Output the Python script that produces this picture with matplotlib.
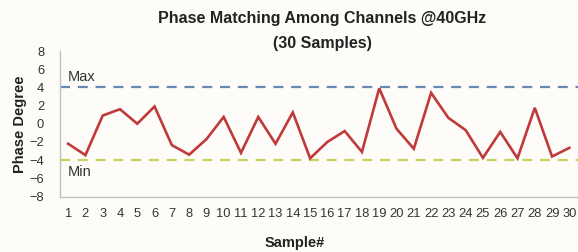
import matplotlib
matplotlib.use("Agg")
import matplotlib.pyplot as plt

samples = list(range(1, 31))
phase = [-2.2, -3.45, 0.9, 1.6, 0.0, 1.9, -2.35, -3.4, -1.7, 0.75,
         -3.2, 0.75, -2.2, 1.25, -3.8, -2.0, -0.8, -3.1, 3.9, -0.55,
         -2.75, 3.4, 0.65, -0.7, -3.75, -0.9, -3.8, 1.75, -3.6, -2.65]
max_limit = 4
min_limit = -4
yticks = [-8, -6, -4, -2, 0, 2, 4, 6, 8]

plt.rcParams['font.family'] = ['Liberation Sans', 'DejaVu Sans']
bg = '#fdfcf8'
fig = plt.figure(figsize=(5.78, 2.52), dpi=100, facecolor=bg)
ax = fig.add_axes([59.5/578, 1 - 196.5/252, (578 - 59.5)/578, (196.5 - 51)/252])
ax.set_facecolor(bg)

x = list(range(len(samples)))
ax.axhline(max_limit, color='#6a86b4', lw=1.6, dashes=(4.5, 3.5))
ax.axhline(min_limit, color='#c5d35c', lw=1.6, dashes=(4.5, 3.5))
ax.plot(x, phase, color='#c0393b', lw=1.9, solid_joinstyle='miter')

ax.set_xlim(-0.5, len(samples) - 0.5)
ax.set_ylim(-8, 8)
ax.set_yticks(yticks)
ax.set_xticks(x)
ax.set_xticklabels([str(s) for s in samples])
ax.tick_params(axis='both', length=0, labelsize=9.3, colors='#333333')
ax.tick_params(axis='y', pad=11)
ax.tick_params(axis='x', pad=8)
for s in ['top', 'right']:
    ax.spines[s].set_visible(False)
for s in ['left', 'bottom']:
    ax.spines[s].set_color('#bfbfbf')
    ax.spines[s].set_linewidth(1.0)

ax.text(0, max_limit + 0.4, 'Max', fontsize=10.5, color='#333333', ha='left', va='bottom')
ax.text(0, min_limit - 0.5, 'Min', fontsize=10.5, color='#333333', ha='left', va='top')

fig.text(322/578, 1 - 18/252, 'Phase Matching Among Channels @40GHz',
         ha='center', va='center', fontsize=11.5, fontweight='bold', color='#222222')
fig.text(322/578, 1 - 43/252, '(30 Samples)',
         ha='center', va='center', fontsize=11.5, fontweight='bold', color='#222222')
fig.text(20/578, 1 - 124/252, 'Phase Degree', rotation=90, ha='center', va='center',
         fontsize=10.5, fontweight='bold', color='#222222')
fig.text(295/578, 1 - 243/252, 'Sample#', ha='center', va='center',
         fontsize=10.5, fontweight='bold', color='#222222')

fig.savefig('out.png', dpi=100, facecolor=bg)
